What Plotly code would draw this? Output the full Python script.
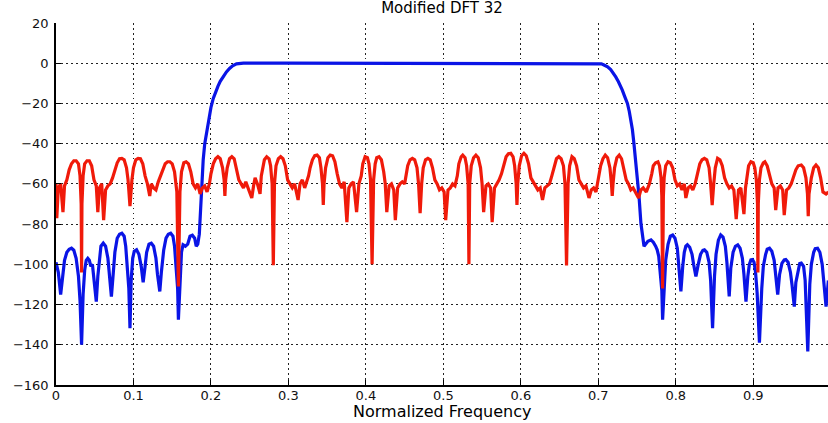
import plotly.graph_objects as go

# ---------------- data ----------------
blue_x = [0.000, 0.003, 0.006, 0.008, 0.011, 0.014, 0.017, 0.020, 0.023, 0.026, 0.029, 0.031, 0.033, 0.035, 0.037, 0.039, 0.041, 0.043, 0.045, 0.047, 0.050, 0.052, 0.054, 0.056, 0.058, 0.061, 0.064, 0.067, 0.069, 0.0715, 0.074, 0.076, 0.079, 0.082, 0.085, 0.088, 0.090, 0.092, 0.094, 0.0955, 0.097, 0.099, 0.101, 0.104, 0.107, 0.110, 0.1125, 0.115, 0.117, 0.120, 0.123, 0.126, 0.129, 0.131, 0.134, 0.136, 0.139, 0.142, 0.145, 0.148, 0.151, 0.153, 0.155, 0.157, 0.158, 0.160, 0.162, 0.164, 0.167, 0.170, 0.173, 0.176, 0.179, 0.181, 0.183, 0.185, 0.187, 0.188, 0.190, 0.192, 0.195, 0.197, 0.200, 0.203, 0.206, 0.209, 0.212, 0.216, 0.220, 0.224, 0.228, 0.233, 0.238, 0.242,
          0.300, 0.400, 0.500, 0.600, 0.700,
          0.704, 0.708, 0.712, 0.716, 0.720, 0.7225, 0.726, 0.729, 0.731, 0.734, 0.7376, 0.740, 0.742, 0.744, 0.746, 0.748, 0.7506, 0.7526, 0.755, 0.757, 0.759, 0.761, 0.764, 0.768, 0.771, 0.774, 0.776, 0.778, 0.780, 0.782, 0.783, 0.785, 0.787, 0.790, 0.793, 0.796, 0.799, 0.802, 0.804, 0.8066, 0.809, 0.811, 0.813, 0.815, 0.818, 0.821, 0.823, 0.826, 0.829, 0.832, 0.835, 0.837, 0.840, 0.843, 0.845, 0.8475, 0.850, 0.852, 0.855, 0.858, 0.861, 0.864, 0.866, 0.869, 0.871, 0.874, 0.877, 0.880, 0.883, 0.886, 0.888, 0.8906, 0.893, 0.895, 0.897, 0.899, 0.901, 0.903, 0.905, 0.908, 0.911, 0.913, 0.916, 0.918, 0.921, 0.924, 0.927, 0.929, 0.9316, 0.934, 0.937, 0.940, 0.942, 0.945, 0.948, 0.950, 0.953, 0.955, 0.958, 0.960, 0.962, 0.965, 0.967, 0.9704, 0.973, 0.975, 0.978, 0.980, 0.983, 0.986, 0.989, 0.991, 0.994, 0.997]
blue_y = [-99, -104, -115, -108, -98, -94, -92.5, -92, -93, -97, -106, -118, -140, -115, -103, -98, -97, -98, -101, -100, -110, -118.5, -106, -96, -91, -89.5, -91, -97, -106, -116, -104, -94, -87, -85, -84.5, -86, -91, -100, -112, -131.7, -108, -97, -93.5, -92.8, -95, -101, -109, -101, -94, -90, -89.5, -91, -97, -105, -113.5, -104, -93, -87, -85, -84.5, -86, -91, -100, -112, -127.5, -105, -94, -90.3, -91, -90, -86, -85.5, -87, -91, -90, -85, -70, -58, -48, -40, -33, -28, -22, -17.5, -14, -11.5, -9, -6.5, -4.3, -2.6, -1.3, -0.3, -0.05, 0,
          0, 0, 0, 0, 0,
          -0.3, -1.0, -1.8, -3.2, -5.2, -6.8, -9.2, -11.5, -13.4, -16.5, -20, -24, -28.3, -33, -39.9, -47, -58, -66.3, -79.6, -86.2, -91, -90, -88.5, -87.8, -89, -91, -92.8, -96, -103, -113, -127.5, -110, -98, -90, -86, -85.4, -87, -92, -100, -113.5, -101, -94, -91, -90.3, -91.5, -95, -100, -106, -100, -95, -93, -92.8, -94, -99, -108, -131.7, -106, -95, -88, -85.4, -86.5, -91, -99, -116, -102, -94, -91, -90.3, -92, -97, -105, -118.5, -106, -100, -97.8, -97.6, -99, -104, -114, -139, -112, -101, -95, -92.5, -92, -93.5, -98, -106, -115, -105, -99.5, -97.8, -97.6, -99, -104, -110, -121, -109, -102, -99.6, -99.4, -101, -108, -143.3, -110, -100, -94, -92.2, -92, -94, -100, -108, -121, -108]

red_x = [0.000, 0.001, 0.003, 0.006, 0.009, 0.011, 0.014,
         0.017, 0.020, 0.023, 0.026, 0.029, 0.031, 0.0325, 0.033, 0.0335, 0.035, 0.037, 0.040, 0.043, 0.046, 0.049,
         0.052, 0.054, 0.056, 0.059, 0.0615, 0.064, 0.067, 0.070, 0.073,
         0.076, 0.079, 0.082, 0.085, 0.088, 0.091, 0.093, 0.0955, 0.098, 0.100, 0.103, 0.106, 0.109, 0.112, 0.115,
         0.118, 0.121, 0.123, 0.126, 0.129, 0.132, 0.135,
         0.138, 0.141, 0.144, 0.147, 0.150, 0.153, 0.156, 0.158, 0.160, 0.162, 0.165, 0.168, 0.171, 0.174, 0.177,
         0.180, 0.183, 0.186, 0.189, 0.192, 0.195, 0.198,
         0.200, 0.203, 0.206, 0.209, 0.212, 0.215, 0.217, 0.218, 0.219, 0.221, 0.224, 0.227, 0.230, 0.233, 0.236,
         0.239, 0.242, 0.245, 0.2527, 0.255, 0.257, 0.260, 0.2634, 0.265,
         0.267, 0.269, 0.272, 0.275, 0.277, 0.279, 0.2805, 0.282, 0.284, 0.287, 0.290, 0.293, 0.296, 0.299,
         0.302, 0.305, 0.308, 0.3125, 0.315, 0.318, 0.321, 0.324, 0.326,
         0.328, 0.331, 0.334, 0.337, 0.340, 0.342, 0.344, 0.345, 0.346, 0.348, 0.351, 0.354, 0.357, 0.360, 0.363,
         0.366, 0.369, 0.372, 0.3755, 0.378, 0.381, 0.384, 0.388, 0.391, 0.394,
         0.396, 0.399, 0.402, 0.404, 0.406, 0.408, 0.410, 0.412, 0.414, 0.417, 0.420, 0.423, 0.425,
         0.427, 0.430, 0.433, 0.436, 0.438, 0.441, 0.444, 0.447, 0.450, 0.452,
         0.454, 0.457, 0.460, 0.463, 0.466, 0.468, 0.470, 0.472, 0.474, 0.477, 0.480, 0.483, 0.486, 0.489,
         0.492, 0.495, 0.498, 0.501, 0.503, 0.506, 0.509, 0.512, 0.515, 0.518,
         0.520, 0.523, 0.525, 0.528, 0.530, 0.532, 0.533, 0.534, 0.536, 0.539, 0.542, 0.545, 0.548, 0.550,
         0.552, 0.555, 0.558, 0.561, 0.563, 0.566, 0.569, 0.572,
         0.575, 0.578, 0.581, 0.584, 0.587, 0.590, 0.592, 0.594, 0.595, 0.596, 0.598, 0.601, 0.604, 0.607, 0.610, 0.613,
         0.616, 0.619, 0.622, 0.625, 0.628, 0.631, 0.634, 0.637, 0.640,
         0.643, 0.646, 0.649, 0.652, 0.655, 0.657, 0.659, 0.661, 0.663, 0.666, 0.669, 0.672, 0.675,
         0.678, 0.681, 0.684, 0.688, 0.691, 0.694, 0.697, 0.700,
         0.703, 0.706, 0.709, 0.712, 0.715, 0.717, 0.718, 0.719, 0.721, 0.724, 0.727, 0.730, 0.733, 0.736,
         0.739, 0.742, 0.745, 0.748, 0.752, 0.755, 0.758, 0.762, 0.766, 0.769,
         0.771, 0.774, 0.777, 0.779, 0.781, 0.782, 0.783, 0.784, 0.785, 0.787, 0.790, 0.793, 0.796, 0.799,
         0.802, 0.805, 0.808, 0.811, 0.813, 0.816, 0.819, 0.822, 0.825, 0.828,
         0.831, 0.834, 0.837, 0.840, 0.843, 0.845, 0.847, 0.849, 0.851, 0.854, 0.857, 0.860, 0.863,
         0.866, 0.869, 0.872, 0.875, 0.878, 0.881, 0.884, 0.888, 0.890, 0.892,
         0.894, 0.897, 0.900, 0.902, 0.904, 0.9055, 0.906, 0.9065, 0.908, 0.910, 0.913, 0.915, 0.918, 0.921,
         0.924, 0.927, 0.929, 0.932, 0.935, 0.938, 0.940, 0.943, 0.946, 0.949, 0.952,
         0.955, 0.958, 0.962, 0.965, 0.968, 0.970, 0.971, 0.972, 0.975, 0.978, 0.981, 0.984, 0.987, 0.990, 0.994, 0.997]
red_y = [-60, -77, -62, -60, -74, -61, -58,
         -53, -50, -48.5, -48.5, -50, -56, -70, -104, -70, -56, -50, -48.5, -48.5, -51, -58,
         -61, -74, -62, -60, -78, -63, -61, -60, -57,
         -53, -49.5, -47.5, -47.3, -48, -52, -58, -71, -58, -52, -48, -47.3, -47.5, -50, -56,
         -60, -66, -60, -62, -63, -59, -56,
         -52, -50, -49, -49, -50, -54, -64, -111, -64, -54, -49.5, -49, -50, -54, -60,
         -62, -60, -65, -62, -61, -64, -60,
         -55, -50, -47.5, -46.5, -47.5, -52, -58, -66, -58, -52, -47.5, -46.5, -47.5, -52, -58,
         -60, -62, -59, -67, -61, -57, -60, -65, -56,
         -52, -48, -46.5, -47.5, -51, -60, -100.5, -60, -51, -47.5, -46.5, -47.5, -51, -58,
         -60, -62, -60, -68, -60, -58, -62, -59, -56,
         -52, -48, -46, -45.7, -47, -52, -60, -70.5, -60, -52, -47, -45.7, -46, -49, -55,
         -60, -62, -59, -79, -62, -60, -59, -74, -60, -56,
         -50, -46.5, -47, -50, -58, -100, -58, -50, -47, -46.5, -48, -54, -60,
         -74, -61, -60, -63, -78, -62, -60, -59, -60, -55,
         -51, -48, -47.3, -48, -52, -60, -74.6, -60, -52, -48, -47.3, -48, -52, -58,
         -60, -63, -62, -64, -78, -63, -62, -60, -61, -56,
         -50, -46.5, -45.7, -47, -51, -60, -100, -60, -51, -47, -45.7, -47, -52, -60,
         -74, -61, -60, -62, -79, -62, -60, -58,
         -55, -50, -46.5, -45, -44.8, -46.5, -51, -60, -70.5, -60, -51, -46, -44.8, -46, -50, -57,
         -59, -61, -63, -62, -68, -62, -61, -60, -56,
         -51, -47.5, -46.5, -47.5, -51, -60, -100.6, -60, -51, -46.5, -47.5, -51, -58,
         -60, -62, -61, -67, -63, -62, -64, -58,
         -51, -47.5, -45.7, -47, -52, -60, -66, -60, -52, -47, -45.7, -47.5, -52, -58,
         -60, -63, -62, -64, -67, -63, -62, -64, -60, -55,
         -51, -49.5, -49, -51, -57, -66, -112, -66, -57, -51, -49, -49.5, -52, -58,
         -61, -60, -63, -60, -67, -62, -61, -63, -60, -55,
         -50, -48, -47.3, -48, -52, -60, -70.5, -60, -52, -47.3, -48, -51, -57,
         -60, -62, -61, -63, -77.5, -63, -62, -75, -62, -56,
         -51, -49, -49.5, -52, -58, -70, -104, -70, -58, -52, -49.5, -49, -51, -56,
         -60, -62, -73, -62, -61, -63, -75.5, -63, -62, -60, -56,
         -53, -51, -50.6, -52, -57, -65, -76, -65, -57, -52, -50.6, -52, -57, -64, -65, -64]

x_ticks = [0, 0.1, 0.2, 0.3, 0.4, 0.5, 0.6, 0.7, 0.8, 0.9]
x_tick_text = ["0", "0.1", "0.2", "0.3", "0.4", "0.5", "0.6", "0.7", "0.8", "0.9"]
y_ticks = [-160, -140, -120, -100, -80, -60, -40, -20, 0, 20]

title_text = "Modified DFT 32"
x_label = "Normalized Frequency"

FONT = "DejaVu Sans, Verdana, sans-serif"

# ---------------- figure ----------------
fig = go.Figure()
fig.add_trace(go.Scatter(x=blue_x, y=blue_y, mode="lines",
                         line=dict(color="#0a14e6", width=3.2), showlegend=False))
fig.add_trace(go.Scatter(x=red_x, y=red_y, mode="lines",
                         line=dict(color="#f01a0a", width=3.2), showlegend=False))

axis_common = dict(
    showline=True, linecolor="black", linewidth=1.5, mirror=False,
    ticks="inside", ticklen=5, tickcolor="black", tickwidth=1,
    showgrid=True, gridcolor="#222222", gridwidth=1.2, griddash="1.5px,3.5px",
    zeroline=False,
    tickfont=dict(family=FONT, size=13, color="#111111"),
)

fig.update_layout(
    width=828, height=423,
    margin=dict(l=56, r=0, t=23, b=38),
    paper_bgcolor="white", plot_bgcolor="white",
    title=dict(text=title_text, x=0.5, xref="paper", xanchor="center",
               y=1 - 8 / 423, yref="container", yanchor="middle",
               font=dict(family=FONT, size=15, color="black")),
    xaxis=dict(range=[0, 0.9965], tickvals=x_ticks, ticktext=x_tick_text,
               ticklabelstandoff=-2, **axis_common),
    yaxis=dict(range=[-160, 20], tickvals=y_ticks, ticklabelstandoff=3, **axis_common),
    annotations=[dict(text=x_label, x=0.5, xref="paper", y=-(411 - 385) / 362, yref="paper",
                      xanchor="center", yanchor="middle", showarrow=False,
                      font=dict(family=FONT, size=16, color="black"))],
)

fig.write_html("out.html")
